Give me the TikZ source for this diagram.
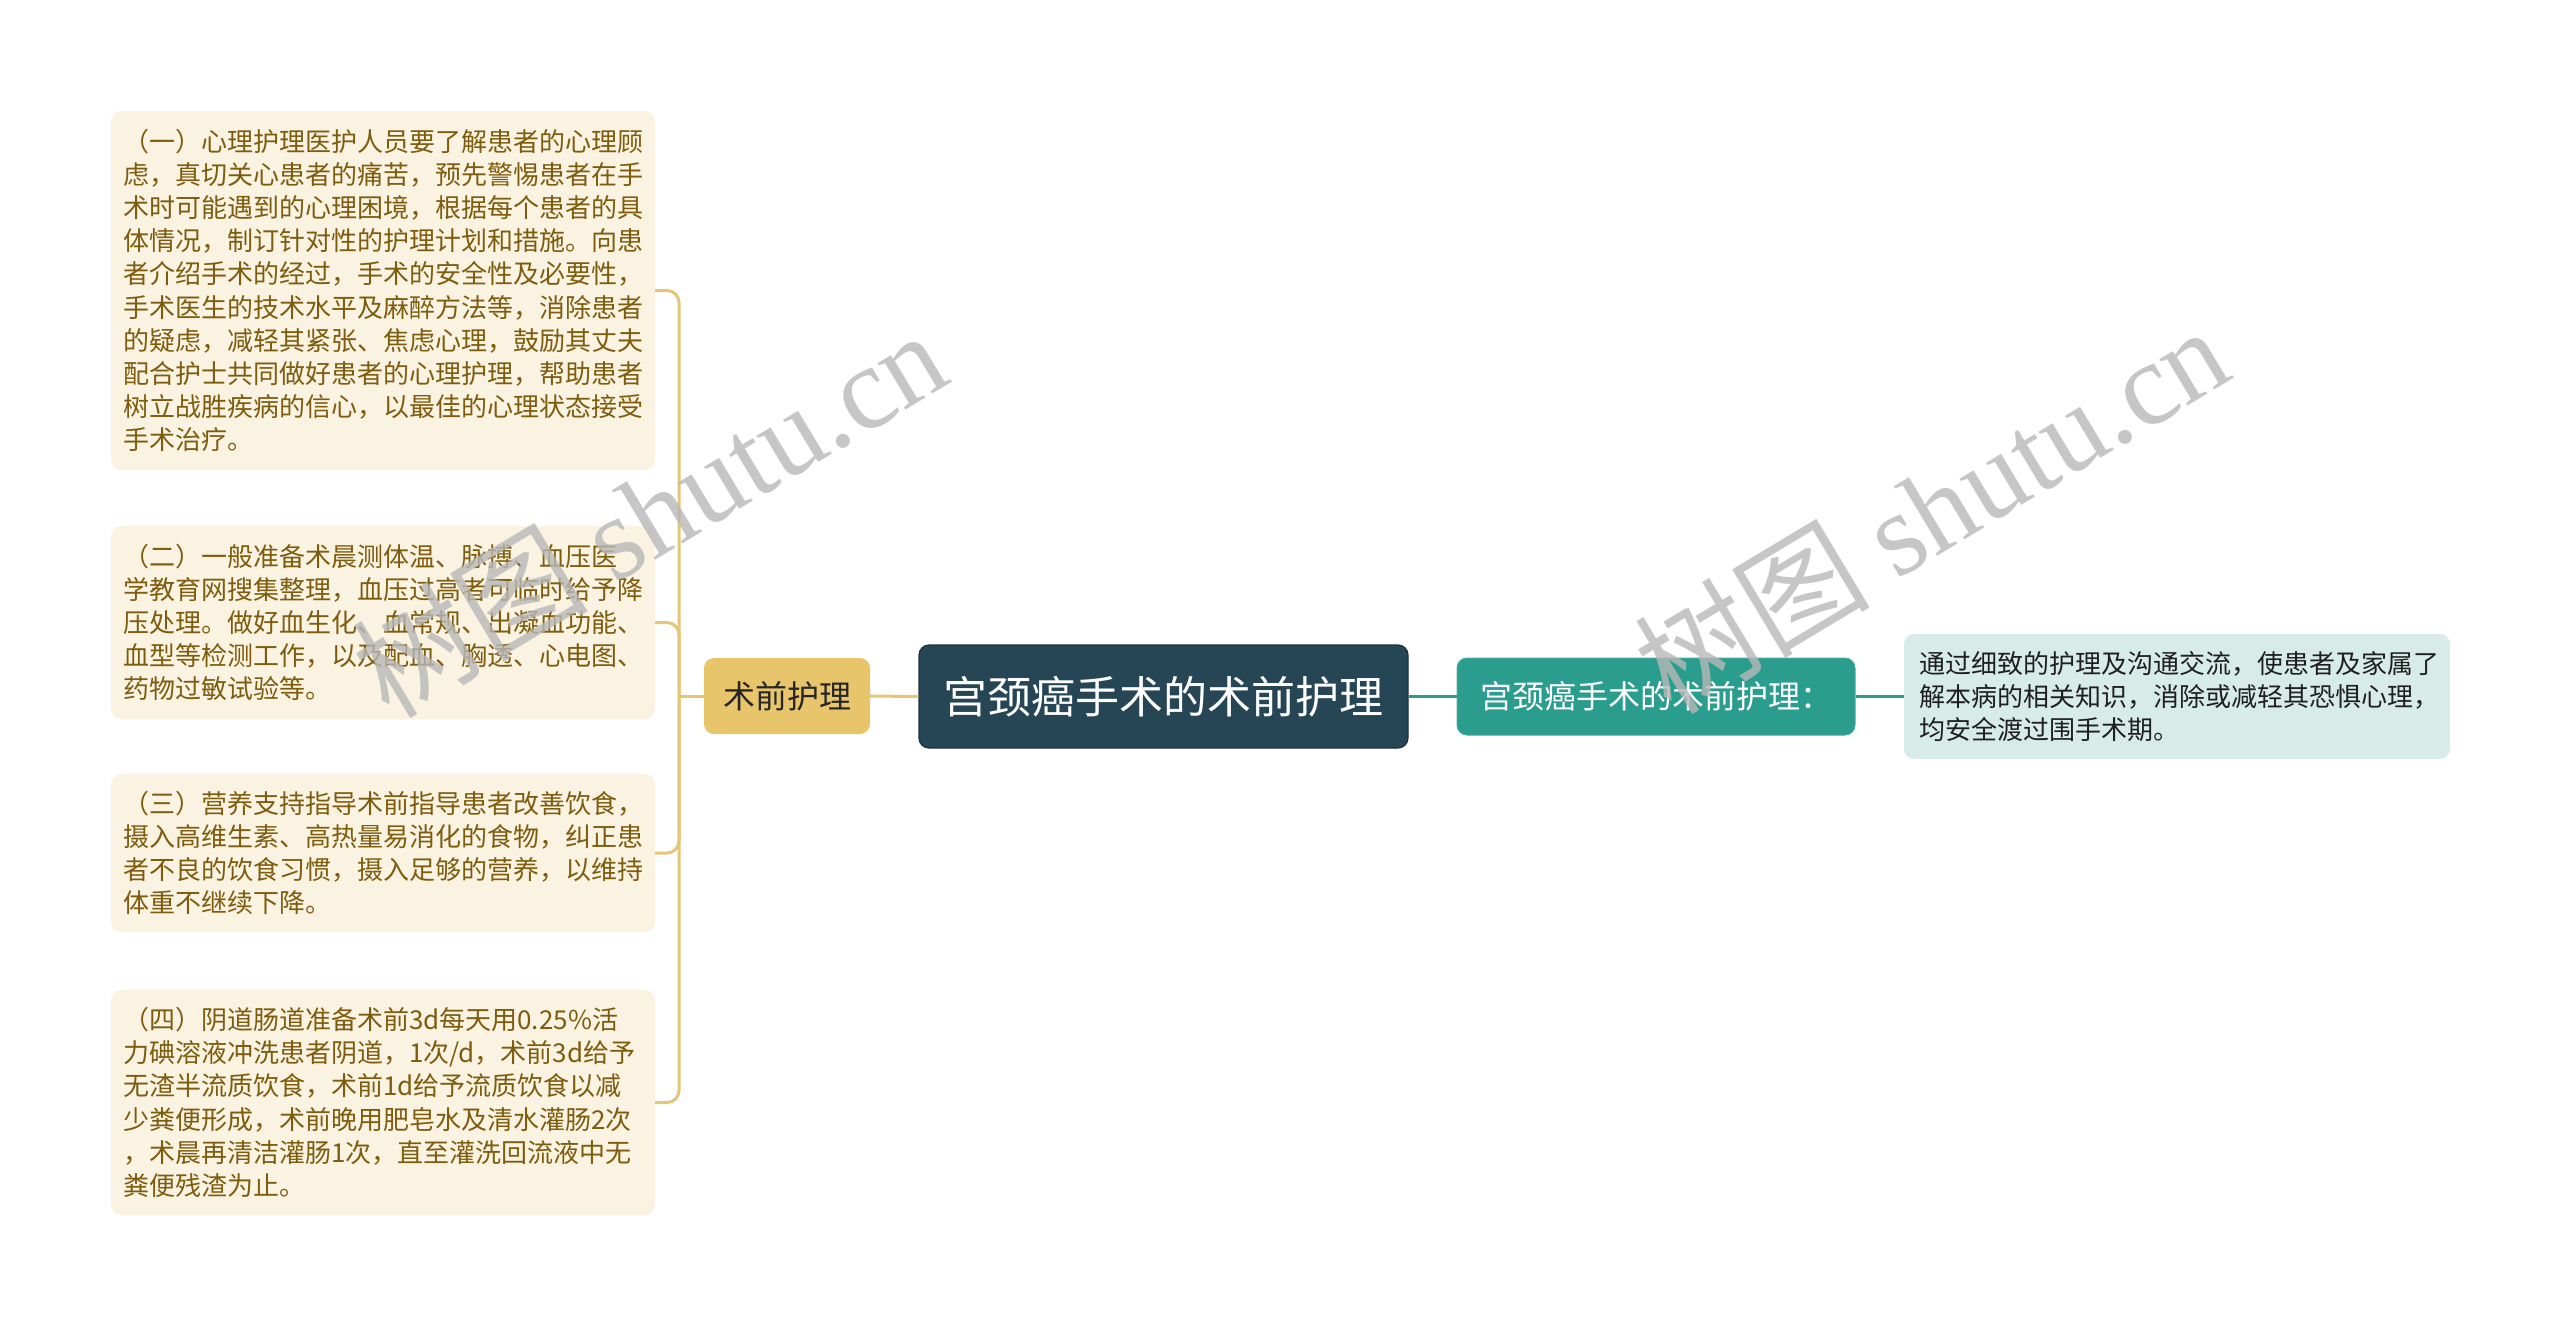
\documentclass[tikz,border=0pt]{standalone}
\usepackage{fontspec}
\setmainfont{Noto Sans CJK SC}
\newfontfamily\wmlatin{Liberation Serif}
\usetikzlibrary{calc}
\definecolor{leafbg}{HTML}{FAF3E2}
\definecolor{leaftx}{HTML}{7E5C0E}
\definecolor{ybranch}{HTML}{E8C46B}
\definecolor{ylinec}{HTML}{E6C676}
\definecolor{rootbg}{HTML}{274655}
\definecolor{tealbg}{HTML}{2A9D8F}
\definecolor{lightbg}{HTML}{D7ECE9}
\definecolor{wmcol}{HTML}{B8B8B8}
\begin{document}
\begin{tikzpicture}[x=1pt,y=-1pt,
  leaf/.style={fill=leafbg, text=leaftx, rounded corners=10pt, inner xsep=12pt, inner ysep=0pt,
    text width=520pt, align=left, font=\fontsize{26}{33.2}\selectfont, minimum width=544pt},
  sqnode/.style={fill=ybranch, text=black!85, rounded corners=10pt, minimum width=166pt, minimum height=76pt,
    inner sep=0pt, font=\fontsize{32}{36}\selectfont},
  rootnode/.style={fill=rootbg, draw=rootbg!70!black, line width=1.2pt, text=white, rounded corners=10pt,
    minimum width=489pt, minimum height=103pt, inner sep=0pt, font=\fontsize{44}{50}\selectfont},
  tealnode/.style={fill=tealbg, draw=tealbg!85!white, line width=1pt, text=white, rounded corners=10pt,
    minimum width=398pt, minimum height=77pt, inner sep=0pt, font=\fontsize{32}{36}\selectfont},
  lightnode/.style={fill=lightbg, text=black!88, rounded corners=10pt, inner xsep=15pt, inner ysep=0pt,
    text width=516pt, align=left, minimum height=125pt, font=\fontsize{26}{33.4}\selectfont},
  yl/.style={draw=ylinec, line width=3pt},
  tl/.style={draw=tealbg, line width=3pt},
  wmark/.style={text=wmcol, text opacity=0.8, font=\fontsize{118}{126}\selectfont, inner sep=0pt}
]
\useasboundingbox (0,0) rectangle (2560,1326);

\node[leaf, minimum height=359pt] (b1) at (383,290.5) {（一）心理护理医护人员要了解患者的心理顾\\虑，真切关心患者的痛苦，预先警惕患者在手\\术时可能遇到的心理困境，根据每个患者的具\\体情况，制订针对性的护理计划和措施。向患\\者介绍手术的经过，手术的安全性及必要性，\\手术医生的技术水平及麻醉方法等，消除患者\\的疑虑，减轻其紧张、焦虑心理，鼓励其丈夫\\配合护士共同做好患者的心理护理，帮助患者\\树立战胜疾病的信心，以最佳的心理状态接受\\手术治疗。};
\node[leaf, minimum height=193pt] (b2) at (383,622.5) {（二）一般准备术晨测体温、脉搏、血压医\\学教育网搜集整理，血压过高者可临时给予降\\压处理。做好血生化、血常规、出凝血功能、\\血型等检测工作，以及配血、胸透、心电图、\\药物过敏试验等。};
\node[leaf, minimum height=158pt] (b3) at (383,853) {（三）营养支持指导术前指导患者改善饮食，\\摄入高维生素、高热量易消化的食物，纠正患\\者不良的饮食习惯，摄入足够的营养，以维持\\体重不继续下降。};
\node[leaf, minimum height=225pt] (b4) at (383,1102.5) {（四）阴道肠道准备术前3d每天用0.25\%活\\力碘溶液冲洗患者阴道，1次/d，术前3d给予\\无渣半流质饮食，术前1d给予流质饮食以减\\少粪便形成，术前晚用肥皂水及清水灌肠2次\\，术晨再清洁灌肠1次，直至灌洗回流液中无\\粪便残渣为止。};

\node[sqnode] (sq) at (787,696) {术前护理};
\node[rootnode] (root) at (1163.5,696.5) {宫颈癌手术的术前护理};
\node[tealnode] (teal) at (1656,696.5) {宫颈癌手术的术前护理：};
\node[lightnode] (light) at (2177,696.5) {通过细致的护理及沟通交流，使患者及家属了\\解本病的相关知识，消除或减轻其恐惧心理，\\均安全渡过围手术期。};

\coordinate (tr) at (679,696);
\draw[yl] (sq.west) -- (tr);
\foreach \b in {b1,b2,b3,b4}
  \draw[yl, rounded corners=12pt] (tr) |- (\b.east);
\draw[yl] (root.west) -- (sq.east);
\draw[tl] (root.east) -- (teal.west);
\draw[tl] (teal.east) -- (light.west);

\node[wmark, rotate=31] (wm1) at (649,512) {树图 {\wmlatin shutu.cn}};
\node[wmark, rotate=31] (wm2) at (1931,508) {树图 {\wmlatin shutu.cn}};
\end{tikzpicture}
\end{document}
